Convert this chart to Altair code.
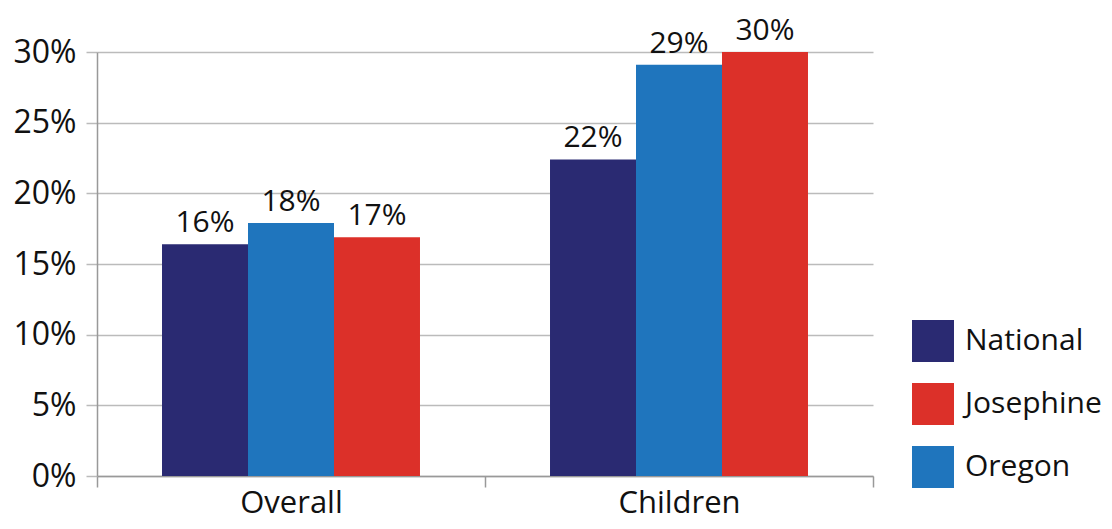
import altair as alt
import pandas as pd

groups = ["Overall", "Overall", "Overall", "Children", "Children", "Children"]
series = ["National", "Oregon", "Josephine", "National", "Oregon", "Josephine"]
values = [0.164, 0.179, 0.169, 0.224, 0.291, 0.300]
labels = ["16%", "18%", "17%", "22%", "29%", "30%"]

legend_order = ["National", "Josephine", "Oregon"]
legend_colors = ["#2a2a72", "#dc3029", "#1f75bd"]
bar_order = ["National", "Oregon", "Josephine"]

df = pd.DataFrame({"group": groups, "series": series, "value": values, "label": labels})

FONT = "Open Sans"
FS = 32

x = alt.X("group:N", sort=["Overall", "Children"], title=None,
          scale=alt.Scale(paddingInner=0, paddingOuter=0),
          axis=alt.Axis(labelAngle=0, tickBand="extent", labelFontSize=31, labelFont=FONT,
                        labelColor="#111", domainColor="#999", tickColor="#999",
                        tickSize=11, labelPadding=1, domainWidth=1.5, tickWidth=1.5))
xo = alt.XOffset("series:N", sort=bar_order,
                 scale=alt.Scale(paddingInner=0, paddingOuter=0.756))

base = alt.Chart(df).encode(x=x, xOffset=xo)

bars = base.mark_bar().encode(
    y=alt.Y("value:Q", title=None,
            scale=alt.Scale(domain=[0, 0.3], nice=False),
            axis=alt.Axis(format=".0%", values=[0, 0.05, 0.1, 0.15, 0.2, 0.25, 0.3],
                          labelFontSize=FS, labelFont=FONT, labelColor="#111",
                          domainColor="#999", tickColor="#bbb", tickSize=11,
                          labelPadding=10, gridColor="#bbb", gridWidth=1.5,
                          domainWidth=1.5, tickWidth=1.5)),
    color=alt.Color("series:N",
                    scale=alt.Scale(domain=legend_order, range=legend_colors),
                    legend=alt.Legend(title=None, orient="none", legendX=815, legendY=268,
                                      symbolType="square", symbolSize=1764,
                                      symbolStrokeWidth=0, labelFontSize=30,
                                      labelFont=FONT, labelColor="#111",
                                      rowPadding=21, labelOffset=11, padding=0)),
)

text = base.mark_text(baseline="alphabetic", dy=-12, fontSize=30, font=FONT,
                      color="#111").encode(
    y=alt.Y("value:Q"),
    text="label:N",
)

chart = (bars + text).properties(
    width=776, height=424,
    autosize=alt.AutoSizeParams(type="none"),
    padding={"left": 89, "top": 44, "right": 230, "bottom": 44},
).configure_view(stroke=None).configure_axis(grid=False).configure_axisY(grid=True)

chart.save("out.html", embed_options={"renderer": "svg", "actions": False})
